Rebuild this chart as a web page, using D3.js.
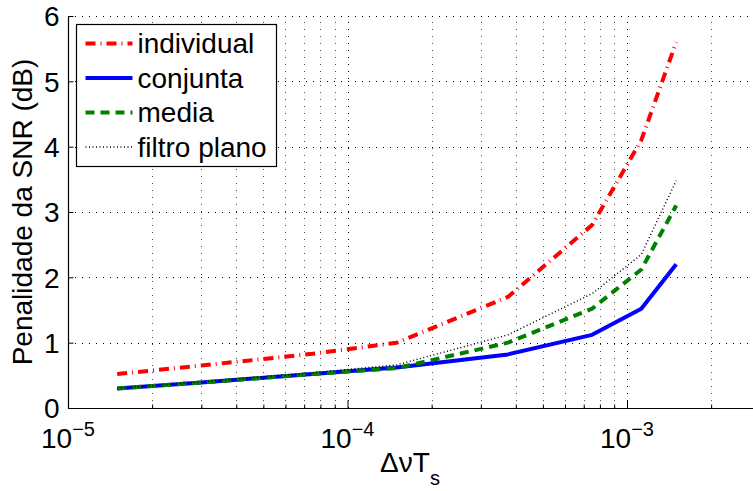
<!DOCTYPE html>
<meta charset="utf-8" />
<style>
  body {
    margin: 0;
    background: #fff;
    font-family: "Liberation Sans", Arial, Helvetica;
  }
  .grid line {
    stroke: #000;
    stroke-width: 1;
    stroke-dasharray: 1, 6;
  }
</style>
<body>
  <div class="container"></div>
  <script src="https://d3js.org/d3.v7.min.js"></script>
  <script>
    // values
    const dnuTs = [1.5e-5, 3e-5, 7.5e-5, 1.5e-4, 3.75e-4, 7.5e-4, 1.125e-3, 1.5e-3];
    const individual = [0.52, 0.65, 0.83, 1.0, 1.7, 2.8, 4.1, 5.6];
    const conjunta = [0.3, 0.39, 0.52, 0.62, 0.82, 1.12, 1.52, 2.2];
    const media = [0.3, 0.39, 0.52, 0.61, 1.0, 1.52, 2.12, 3.1];
    const filtroPlano = [0.3, 0.4, 0.54, 0.66, 1.12, 1.75, 2.35, 3.48];
    const yTicks = [0, 1, 2, 3, 4, 5, 6];
    const xDecades = [-5, -4, -3];

    const series = [
      { name: "individual", values: individual, color: "#ff0000", width: 4, dash: "10,5,1,5" },
      { name: "conjunta", values: conjunta, color: "#0000ff", width: 4, dash: null },
      { name: "media", values: media, color: "#008000", width: 4, dash: "9,6" },
      { name: "filtro plano", values: filtroPlano, color: "#000000", width: 1.5, dash: "1,2.5" },
    ];

    const W = 753, H = 491;
    const pLeft = 68, pRight = 753, pTop = 16, pBottom = 408;

    const svg = d3
      .select(".container")
      .append("svg")
      .attr("width", W)
      .attr("height", H);

    // log x: one decade ~279px
    const x = d3.scaleLog().domain([1e-5, 1e-3]).range([pLeft, 627]);
    const y = d3.scaleLinear().domain([0, 6]).range([pBottom, pTop]);

    // grid values inside the visible box
    let gridX = [];
    xDecades.forEach(function (e) {
      for (let m = 1; m <= 9; m++) {
        const v = m * Math.pow(10, e);
        if (x(v) <= pRight - 2) gridX.push(v);
      }
    });
    const isMajor = (d) => Math.abs(Math.log10(d) - Math.round(Math.log10(d))) < 1e-9;

    const grid = svg.append("g").attr("class", "grid");
    grid
      .selectAll(".gx")
      .data(gridX.filter((d) => d > 1e-5))
      .enter()
      .append("line")
      .attr("x1", (d) => Math.round(x(d)) + 0.5)
      .attr("x2", (d) => Math.round(x(d)) + 0.5)
      .attr("y1", pBottom)
      .attr("y2", pTop)
      .attr("stroke-opacity", (d) => (isMajor(d) ? 1 : 0.7));
    grid
      .selectAll(".gy")
      .data(yTicks.filter((d) => d > 0))
      .enter()
      .append("line")
      .attr("x1", pLeft)
      .attr("x2", pRight)
      .attr("y1", (d) => Math.round(y(d)) + 0.5)
      .attr("y2", (d) => Math.round(y(d)) + 0.5);

    // axes (left and bottom only)
    const yAxis = d3.axisLeft(y).tickValues(yTicks).tickSize(-5).tickPadding(9).tickFormat(d3.format("d"));
    const gy = svg.append("g").attr("transform", "translate(" + (pLeft + 0.5) + ",0)").call(yAxis);
    gy.select(".domain").remove();
    gy.selectAll(".tick line").attr("stroke", "#000");
    gy.selectAll(".tick text")
      .attr("font-family", "Liberation Sans, Arial")
      .attr("font-size", 28)
      .attr("fill", "#000")
      .attr("dy", "0.35em");

    const xAxis = d3.axisBottom(x).tickValues(gridX).tickSize(0).tickFormat("");
    const gx = svg.append("g").attr("transform", "translate(0," + (pBottom + 0.5) + ")").call(xAxis);
    gx.select(".domain").remove();
    gx.selectAll(".tick line")
      .attr("stroke", "#000")
      .attr("y2", (d) => (isMajor(d) ? -8 : -4));

    svg
      .append("path")
      .attr("d", "M" + (pLeft + 0.5) + "," + pTop + "V" + (pBottom + 0.5) + "H" + pRight)
      .attr("fill", "none")
      .attr("stroke", "#000")
      .attr("stroke-width", 1.2);

    // x tick labels 10^e
    const xl = svg
      .selectAll(".xlab")
      .data(xDecades)
      .enter()
      .append("text")
      .attr("x", (d) => x(Math.pow(10, d)))
      .attr("y", 448)
      .attr("text-anchor", "middle")
      .attr("font-size", 28)
      .attr("fill", "#000");
    xl.append("tspan").text("10");
    xl.append("tspan")
      .attr("font-size", 20)
      .attr("dy", -12)
      .text((d) => "\u2212" + Math.abs(d));

    // axis titles
    const xt = svg
      .append("text")
      .attr("x", 410)
      .attr("y", 472)
      .attr("text-anchor", "middle")
      .attr("font-size", 28)
      .attr("fill", "#000");
    xt.append("tspan").text("\u0394\u03bdT");
    xt.append("tspan").attr("font-size", 20).attr("dy", 13).text("s");

    svg
      .append("text")
      .attr("transform", "translate(32," + (pTop + pBottom) / 2 + ") rotate(-90)")
      .attr("text-anchor", "middle")
      .attr("font-size", 28)
      .attr("fill", "#000")
      .text("Penalidade da SNR (dB)");

    // curves
    const line = d3
      .line()
      .x((d, i) => x(dnuTs[i]))
      .y((d) => y(d));

    svg
      .selectAll(".curve")
      .data(series)
      .enter()
      .append("path")
      .attr("class", "curve")
      .attr("d", (s) => line(s.values))
      .attr("fill", "none")
      .attr("stroke", (s) => s.color)
      .attr("stroke-width", (s) => s.width)
      .attr("stroke-dasharray", (s) => s.dash)
      .attr("stroke-linejoin", "round");

    // legend
    const lg = svg.append("g").attr("transform", "translate(76.5,24.5)");
    lg.append("rect")
      .attr("width", 200)
      .attr("height", 142)
      .attr("fill", "#fff")
      .attr("stroke", "#000")
      .attr("stroke-width", 1.2);
    const rows = lg
      .selectAll(".row")
      .data(series)
      .enter()
      .append("g")
      .attr("transform", (d, i) => "translate(0," + (19 + i * 34.5) + ")");
    rows
      .append("line")
      .attr("x1", 9)
      .attr("x2", 56)
      .attr("stroke", (s) => s.color)
      .attr("stroke-width", (s) => s.width)
      .attr("stroke-dasharray", (s) => s.dash);
    rows
      .append("text")
      .attr("x", 61)
      .attr("dy", "0.35em")
      .attr("font-size", 28)
      .attr("fill", "#000")
      .text((s) => s.name);
  </script>
</body>
